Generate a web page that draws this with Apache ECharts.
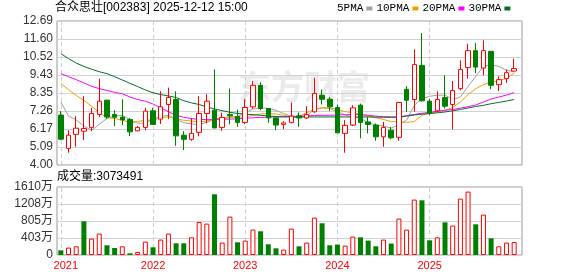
<!DOCTYPE html>
<html><head><meta charset="utf-8">
<script src="https://cdn.jsdelivr.net/npm/echarts@6/dist/echarts.min.js"></script>
<style>html,body{margin:0;padding:0;background:#fff}#c{width:578px;height:276px}</style>
</head><body><div id="c"></div>
<script>
const months = [
'2021-01','2021-02','2021-03','2021-04','2021-05','2021-06','2021-07','2021-08','2021-09','2021-10','2021-11','2021-12',
'2022-01','2022-02','2022-03','2022-04','2022-05','2022-06','2022-07','2022-08','2022-09','2022-10','2022-11','2022-12',
'2023-01','2023-02','2023-03','2023-04','2023-05','2023-06','2023-07','2023-08','2023-09','2023-10','2023-11','2023-12',
'2024-01','2024-02','2024-03','2024-04','2024-05','2024-06','2024-07','2024-08','2024-09','2024-10','2024-11','2024-12',
'2025-01','2025-02','2025-03','2025-04','2025-05','2025-06','2025-07','2025-08','2025-09','2025-10','2025-11','2025-12'];
const yearStarts = ['2021-01','2022-01','2023-01','2024-01','2025-01'];

const openP  = [7.01,5.00,5.85,6.04,6.27,7.05,7.91,7.05,6.89,6.75, 6.06,6.27,7.27,6.77,7.65,7.95,5.80,5.55,5.97,7.11,
                7.31,6.27,7.05,6.93,6.57,7.51,8.81,7.41,6.84,6.45, 6.57,6.96,6.84,7.21,8.21,7.97,7.47,5.91,6.41,7.61,
                6.60,6.41,5.70,6.10,5.67,8.57,7.95,10.01,7.85,7.27, 8.07,7.65,8.61,9.88,10.90,9.85,10.86,8.85,9.21,9.67];
const closeP = [5.56,5.80,6.22,6.20,7.11,7.85,6.90,6.88,6.72,6.00, 6.27,7.25,6.45,7.51,8.07,5.76,5.55,5.91,7.11,7.85,
                6.24,6.87,6.97,6.57,7.47,8.81,7.41,6.84,6.41,6.54, 6.95,6.84,7.05,8.31,7.97,7.51,5.94,6.39,7.45,6.57,
                6.45,5.70,6.27,5.64,7.77,7.91,10.06,7.87,7.15,7.95, 7.55,8.49,9.76,10.90,9.91,10.90,8.81,9.15,9.57,9.82];
const lowP   = [5.50,4.74,5.10,5.50,6.04,6.90,6.78,6.35,6.41,5.74, 6.04,6.10,6.41,6.47,6.77,5.16,4.90,5.46,5.74,6.51,
                6.21,6.06,6.45,6.30,6.47,7.39,7.31,6.54,6.10,6.17, 6.51,6.30,6.77,7.15,7.65,7.25,5.94,4.74,6.35,5.61,
                5.91,5.46,5.10,5.55,5.46,7.21,7.21,7.85,7.00,7.19, 7.41,6.15,8.51,9.21,9.55,9.41,8.57,8.47,8.95,9.67];
const highP  = [7.25,6.10,6.95,8.15,7.45,9.21,7.95,7.31,7.97,6.84, 6.35,7.45,7.45,8.45,8.67,8.45,6.04,6.81,8.15,8.27,
                9.77,7.15,8.61,7.35,7.97,9.07,8.99,7.41,6.87,6.65, 7.77,7.17,7.55,9.27,8.55,8.11,7.65,6.71,7.61,7.71,
                6.90,6.51,6.60,6.30,7.81,8.75,10.98,11.96,7.99,8.45, 9.41,9.07,10.31,11.32,11.36,11.52,10.86,9.35,9.76,10.42];

const volume = [111,175,206,798,388,507,230,166,206,40, 71,317,182,365,507,277,277,419,781,743,
                1437,294,909,301,341,601,561,253,159,128, 625,206,294,886,751,230,246,222,436,419,
                341,206,365,270,862,601,1312,1295,348,419, 774,696,1335,1501,727,957,395,206,294,307];
const volUp  = [0,1,1,0,1,1,0,0,1,0, 1,1,0,1,1,0,0,1,1,1,
                0,1,1,0,1,1,0,0,0,1, 1,0,1,1,0,0,0,1,1,0,
                0,0,1,0,1,1,1,0,0,1, 0,1,1,1,0,1,0,1,1,1];

const ma5  = [7.81,6.95,6.72,6.35,6.10,6.45,6.81,6.95,7.00,6.72, 6.52,6.53,6.78,6.93,7.00,6.75,6.55,6.48,6.45,6.58,
              6.75,6.85,6.90,6.92,7.15,7.38,7.45,7.42,7.30,7.10, 6.95,6.85,6.98,7.35,7.45,7.40,7.22,7.02,6.90,6.82,
              6.55,6.42,6.35,6.22,6.45,6.70,7.60,8.00,8.15,8.21, 8.22,7.95,8.10,8.75,9.35,9.95,10.05,9.95,9.72,9.62];
const ma10 = [8.91,8.55,8.20,7.90,7.55,7.15,6.86,6.80,6.71,6.55, 6.62,6.70,6.72,6.82,6.92,6.78,6.70,6.65,6.60,6.65,
              6.75,6.82,6.87,6.88,6.90,7.00,7.08,7.11,7.08,7.00, 6.90,6.95,7.15,7.38,7.45,7.45,7.35,7.22,7.15,7.07,
              6.95,6.85,6.75,6.62,6.60,6.57,6.62,7.00,7.15,7.20, 7.30,7.47,7.80,8.25,8.60,8.85,9.00,9.10,9.22,9.55];
const ma20 = [9.51,9.33,9.15,8.95,8.75,8.61,8.50,8.38,8.30,8.10, 7.95,7.85,7.68,7.45,7.22,7.00,6.88,6.80,6.75,6.75,
              6.76,6.76,6.77,6.78,6.82,6.85,6.87,6.88,6.90,6.90, 6.93,6.95,6.97,6.99,7.00,7.00,7.02,7.03,7.05,7.04,
              7.00,6.95,6.92,6.90,6.90,6.98,7.05,7.12,7.18,7.24, 7.30,7.35,7.43,7.52,7.62,7.80,7.98,8.10,8.22,8.37];
const ma30 = [10.72,10.42,10.15,9.95,9.78,9.63,9.51,9.33,9.13,8.93, 8.73,8.53,8.36,8.25,8.17,8.07,7.88,7.75,7.65,7.50,
              7.38,7.28,7.18,7.11,7.07,7.04,7.00,6.96,6.93,6.91, 6.90,6.90,6.90,6.90,6.90,6.90,6.90,6.90,6.90,6.90,
              6.90,6.89,6.88,6.88,6.88,6.95,7.02,7.07,7.10,7.15, 7.20,7.27,7.35,7.44,7.53,7.60,7.70,7.78,7.86,7.95];

const priceTicks = ['4.00','5.09','6.17','7.26','8.35','9.43','10.52','11.60','12.69'];
const volTicks = ['0','403万','805万','1208万','1610万'];
const maNames = ['5PMA','10PMA','20PMA','30PMA'];
const chartTitle = '合众思壮[002383] 2025-12-12 15:00';
const volTitle = '成交量:3073491';

const pMin = 4, pMax = 12.69, pInt = (pMax - pMin) / 8;
const vMax = 1610, vInt = vMax / 4;
const FONT = '"Liberation Sans", "Noto Sans CJK SC", sans-serif';
const RED = '#ff0000', GREEN = '#008000';
const maColors = ['#a0a0a0', '#f0a000', '#ff00ff', '#006f30'];

const chart = echarts.init(document.getElementById('c'), null, {renderer: 'canvas'});

const yearMark = (yearStarts.map(m => ({xAxis: m})));
const markLineCfg = {
  silent: true, symbol: 'none', z: 1,
  label: {show: false},
  lineStyle: {color: '#cfcfcf', type: [4, 3], width: 1},
  emphasis: {disabled: true},
  data: yearMark
};

const maSeries = [ma5, ma10, ma20, ma30].map((d, k) => ({
  name: maNames[k], type: 'line', xAxisIndex: 1, yAxisIndex: 1,
  data: d, symbol: 'none', showSymbol: false, smooth: false, z: 2,
  lineStyle: {width: 1, color: maColors[k]}, itemStyle: {color: maColors[k]},
  emphasis: {disabled: true}
}));

chart.setOption({
  animation: false,
  textStyle: {fontFamily: FONT},
  title: [
    {text: chartTitle, left: 55, top: 2, padding: 0,
     textStyle: {fontSize: 12, fontWeight: 'normal', color: '#000', fontFamily: FONT}},
    {text: volTitle, left: 57, top: 171, padding: 0,
     textStyle: {fontSize: 12, fontWeight: 'normal', color: '#000', fontFamily: FONT}}
  ],
  legend: {
    data: maNames, left: 337, top: 3, padding: 0, align: 'right', icon: 'rect',
    itemWidth: 6, itemHeight: 4, itemGap: 4, selectedMode: false,
    textStyle: {fontSize: 11, color: '#000', fontFamily: '"Liberation Mono", monospace', padding: [0, -2, 0, 0]}
  },
  graphic: [{
    type: 'text', left: 238, top: 70, silent: true, z: 0,
    style: {text: '东方财富', font: 'bold 33px "Noto Sans CJK SC"', fill: '#ebebeb'}
  }],
  grid: [
    {left: 57, right: 56, top: 21, height: 144, show: true, borderColor: '#999', borderWidth: 1, backgroundColor: 'transparent'},
    {left: 57, right: 60, top: 21, height: 144},
    {left: 57, right: 56, top: 187, height: 68, show: true, borderColor: '#999', borderWidth: 1, backgroundColor: 'transparent'},
    {left: 57, right: 60, top: 187, height: 68}
  ],
  xAxis: [
    {gridIndex: 0, type: 'value', min: 0, max: 1, show: false},
    {gridIndex: 1, type: 'category', data: months, boundaryGap: true, show: false},
    {gridIndex: 2, type: 'value', min: 0, max: 1, show: false},
    {gridIndex: 3, type: 'category', data: months, boundaryGap: true,
     axisLine: {show: false}, axisTick: {show: false}, splitLine: {show: false},
     axisLabel: {
       interval: (idx) => idx % 12 === 0, margin: 5, color: RED, fontSize: 11, fontFamily: FONT,
       formatter: (v, idx) => idx === 0 ? '{f|' + v.slice(0, 4) + '}' : v.slice(0, 4),
       rich: {f: {padding: [0, 0, 0, 10], color: RED, fontSize: 11, fontFamily: FONT}}
     }}
  ],
  yAxis: [
    {gridIndex: 0, type: 'value', min: pMin, max: pMax, interval: pInt,
     axisLine: {show: false}, axisTick: {show: false},
     splitLine: {show: true, lineStyle: {color: '#d2d2d2', width: 1}},
     axisLabel: {margin: 4, fontSize: 12, color: '#333', fontFamily: FONT,
       formatter: (v) => priceTicks[Math.round((v - pMin) / pInt)]}},
    {gridIndex: 1, type: 'value', min: pMin, max: pMax, show: false},
    {gridIndex: 2, type: 'value', min: 0, max: vMax, interval: vInt,
     axisLine: {show: false}, axisTick: {show: false},
     splitLine: {show: true, lineStyle: {color: '#d2d2d2', width: 1}},
     axisLabel: {margin: 4, fontSize: 12, color: '#333', fontFamily: FONT,
       formatter: (v) => volTicks[Math.round(v / vInt)]}},
    {gridIndex: 3, type: 'value', min: 0, max: vMax, show: false}
  ],
  series: [
    ...maSeries,
    {
      name: 'K', type: 'candlestick', xAxisIndex: 1, yAxisIndex: 1, z: 3,
      barWidth: 5,
      data: months.map((m, i) => [openP[i], closeP[i], lowP[i], highP[i]]),
      itemStyle: {color: '#ffffff', color0: GREEN, borderColor: RED, borderColor0: GREEN, borderWidth: 1},
      emphasis: {disabled: true},
      markLine: markLineCfg
    },
    {
      name: 'VOL', type: 'bar', xAxisIndex: 3, yAxisIndex: 3, barWidth: 5, z: 3,
      data: volume.map((v, i) => ({
        value: v,
        itemStyle: volUp[i] ? {color: '#ffffff', borderColor: RED, borderWidth: 1} : {color: GREEN, borderWidth: 0}
      })),
      emphasis: {disabled: true},
      markLine: markLineCfg
    }
  ]
});
</script></body></html>
